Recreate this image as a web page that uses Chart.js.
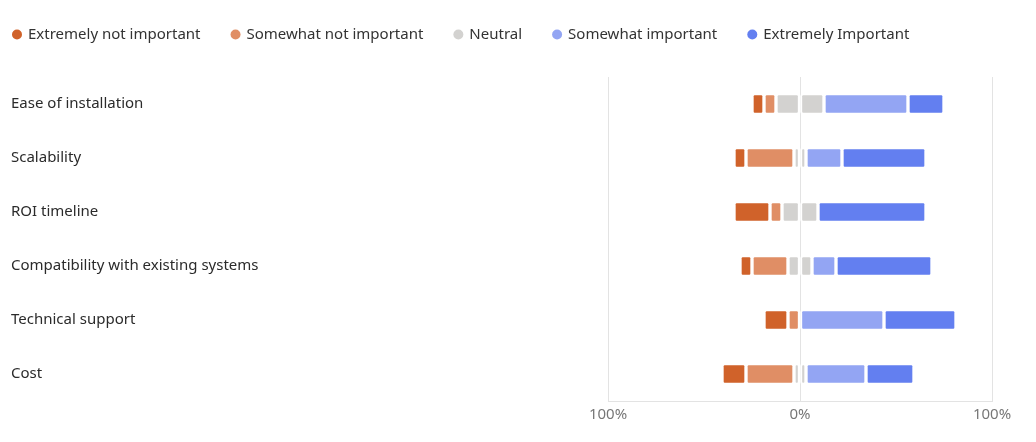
<!DOCTYPE html>
<html>
<head>
<meta charset="utf-8">
<script src="https://cdn.jsdelivr.net/npm/chart.js@4.4.0/dist/chart.umd.min.js"></script>
<style>
    html, body { margin: 0; padding: 0; background: #fff; }
    #wrap { width: 1036px; height: 442px; }
</style>
</head>
<body>
<div id="wrap"><canvas id="myChart"></canvas></div>
<script>
const categories = [
    'Ease of installation',
    'Scalability',
    'ROI timeline',
    'Compatibility with existing systems',
    'Technical support',
    'Cost'
];
const seriesNames = [
    'Extremely not important',
    'Somewhat not important',
    'Neutral',
    'Somewhat important',
    'Extremely Important'
];
// share of answers, %
const extremelyNot = [6.25, 6.25, 18.75, 6.25, 12.5, 12.5];
const somewhatNot = [6.25, 25, 6.25, 18.75, 6.25, 25];
const neutral = [25, 6.25, 18.75, 12.5, 0, 6.25];
const somewhatImp = [43.75, 18.75, 0, 12.5, 43.75, 31.25];
const extremelyImp = [18.75, 43.75, 56.25, 50, 37.5, 25];
const xTicks = [-100, 0, 100];

const colors = ['#d0622a', '#e08e65', '#d3d2d0', '#93a5f3', '#637ff0'];
const fontName = '"Noto Sans", sans-serif';

// negative side stacks outward from 0, neutral is split in half
const neg = arr => arr.map(v => v ? -v : null);
const pos = arr => arr.map(v => v ? v : null);
const half = arr => arr.map(v => v ? v / 2 : null);

function bar(label, values, color) {
    return {
        label: label,
        data: values,
        backgroundColor: color,
        borderColor: '#ffffff',
        borderWidth: 2,
        borderSkipped: false,
        borderRadius: { topLeft: 3, topRight: 3, bottomLeft: 3, bottomRight: 3 },
        barThickness: 21
    };
}

const datasets = [
    bar(seriesNames[2], neg(half(neutral)), colors[2]),
    bar(seriesNames[2], half(neutral), colors[2]),
    bar(seriesNames[1], neg(somewhatNot), colors[1]),
    bar(seriesNames[3], pos(somewhatImp), colors[3]),
    bar(seriesNames[0], neg(extremelyNot), colors[0]),
    bar(seriesNames[4], pos(extremelyImp), colors[4])
];

// legend drawn across the top, left aligned
const topLegend = {
    id: 'topLegend',
    afterDraw(chart) {
        const ctx = chart.ctx;
        ctx.save();
        ctx.font = '15px ' + fontName;
        ctx.textBaseline = 'middle';
        let x = 12;
        const y = 34.5;
        seriesNames.forEach((name, i) => {
            ctx.fillStyle = colors[i];
            ctx.beginPath();
            ctx.arc(x + 5, y, 5, 0, Math.PI * 2);
            ctx.fill();
            ctx.fillStyle = '#333333';
            ctx.fillText(name, x + 16, y);
            x += 16 + ctx.measureText(name).width + 30;
        });
        ctx.restore();
    }
};

const config = {
    type: 'bar',
    data: {
        labels: categories,
        datasets: datasets
    },
    options: {
        indexAxis: 'y',
        responsive: true,
        maintainAspectRatio: false,
        animation: false,
        layout: {
            padding: { left: 11, right: 44, top: 77, bottom: 13 }
        },
        plugins: {
            legend: { display: false },
            tooltip: { enabled: false }
        },
        scales: {
            x: {
                stacked: true,
                min: -100,
                max: 100,
                afterBuildTicks: function(scale) {
                    scale.ticks = xTicks.map(v => ({ value: v }));
                },
                ticks: {
                    color: '#777777',
                    padding: 5,
                    font: { family: fontName, size: 15 },
                    callback: v => Math.abs(v) + '%'
                },
                grid: {
                    color: '#e3e3e3',
                    drawTicks: false
                },
                border: { display: true, color: '#e3e3e3' }
            },
            y: {
                stacked: true,
                afterFit: function(scale) {
                    scale.width = 597;
                },
                ticks: {
                    crossAlign: 'far',
                    color: '#2b2b2b',
                    font: { family: fontName, size: 15 }
                },
                grid: { display: false },
                border: { display: false }
            }
        }
    },
    plugins: [topLegend]
};

const myChart = new Chart(document.getElementById('myChart'), config);
</script>
</body>
</html>
